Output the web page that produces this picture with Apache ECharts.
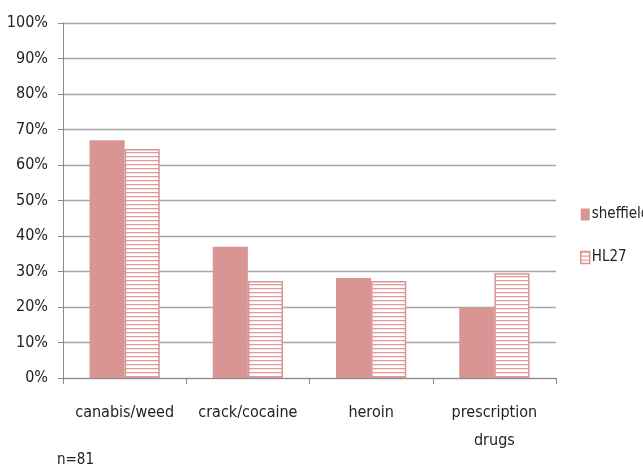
<!DOCTYPE html>
<html>
<head>
<meta charset="utf-8">
<script src="https://cdn.jsdelivr.net/npm/echarts@6/dist/echarts.min.js"></script>
<style>
  html, body { margin: 0; padding: 0; background: #fff; }
  #chart { width: 643px; height: 468px; }
</style>
</head>
<body>
<div id="chart"></div>
<script>
const categories = ['canabis/weed', 'crack/cocaine', 'heroin', 'prescription\ndrugs'];
const sheffield = [67, 37, 28.2, 19.8];
const hl27 = [64.5, 27.3, 27.3, 29.5];
const seriesNames = ['sheffield', 'HL27'];

const PINK = '#d99594';
const STRIPE = '#e09c9c';
const FONT = '"DejaVu Sans Condensed", "Liberation Sans Narrow", sans-serif';

// horizontal stripe fill for the second series
function stripePattern() {
  const c = document.createElement('canvas');
  c.width = 4; c.height = 4;
  const ctx = c.getContext('2d');
  ctx.fillStyle = '#ffffff';
  ctx.fillRect(0, 0, 4, 4);
  ctx.fillStyle = STRIPE;
  ctx.fillRect(0, 0, 4, 1.3);
  return c;
}
const stripes = { image: stripePattern(), repeat: 'repeat' };

const chart = echarts.init(document.getElementById('chart'), null, { renderer: 'canvas' });
chart.setOption({
  animation: false,
  backgroundColor: '#fff',
  textStyle: { fontFamily: FONT },
  grid: { left: 63, right: 87, top: 23, bottom: 90, containLabel: false },
  legend: {
    orient: 'vertical',
    left: 575,
    top: 202,
    itemGap: 28,
    itemWidth: 9,
    itemHeight: 12,
    icon: 'rect',
    textStyle: { fontSize: 15, color: '#222', fontFamily: FONT, padding: [0, 0, 0, -3] },
    data: [
      { name: seriesNames[0], itemStyle: { color: PINK } },
      { name: seriesNames[1], itemStyle: { color: stripes, borderColor: PINK, borderWidth: 1.5 } }
    ]
  },
  xAxis: {
    type: 'category',
    data: categories,
    axisLine: { lineStyle: { color: '#8c8c8c', width: 1 } },
    axisTick: { show: true, length: 6, lineStyle: { color: '#8c8c8c' } },
    axisLabel: { interval: 0, fontSize: 16, color: '#222', margin: 21, lineHeight: 28, fontFamily: FONT }
  },
  yAxis: {
    type: 'value',
    min: 0, max: 100, interval: 10,
    axisLine: { show: true, lineStyle: { color: '#8c8c8c' } },
    axisTick: { show: true, length: 5, lineStyle: { color: '#8c8c8c' } },
    axisLabel: { formatter: '{value}%', fontSize: 16, color: '#222', margin: 15, fontFamily: FONT },
    splitLine: { lineStyle: { color: '#a6a6a6', width: 1.3 } }
  },
  series: [
    {
      name: seriesNames[0],
      type: 'bar',
      data: sheffield,
      barGap: '0%',
      barCategoryGap: '43%',
      itemStyle: { color: PINK }
    },
    {
      name: seriesNames[1],
      type: 'bar',
      data: hl27,
      barGap: '0%',
      barCategoryGap: '43%',
      itemStyle: { color: stripes, borderColor: PINK, borderWidth: 1.5 }
    }
  ],
  graphic: [
    {
      type: 'text',
      left: 57,
      top: 453,
      style: { text: 'n=81', fontSize: 15, fill: '#222', fontFamily: FONT }
    }
  ]
});
</script>
</body>
</html>
